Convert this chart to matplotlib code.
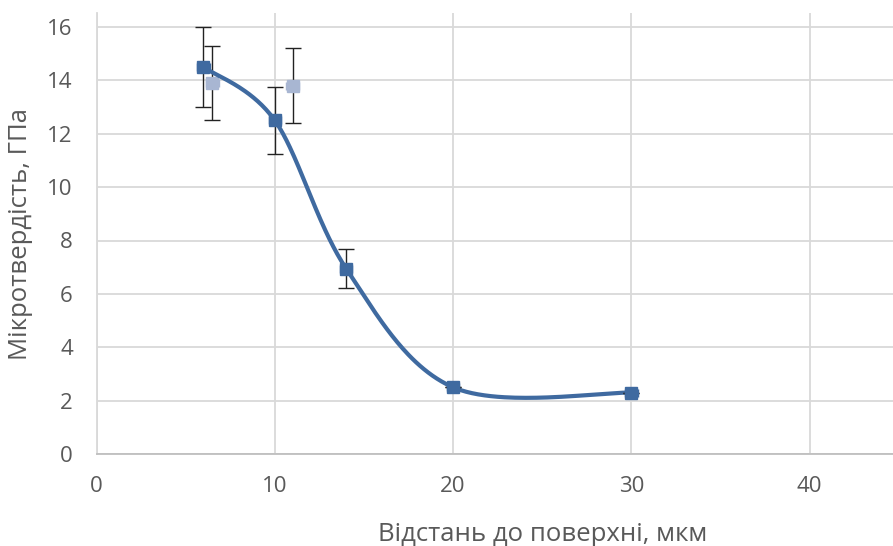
import numpy as np
import matplotlib
matplotlib.use("Agg")
import matplotlib.pyplot as plt

# Main series (smoothed line)
depth_main = [6, 10, 14, 20, 30]
hv_main = [14.5, 12.5, 6.95, 2.5, 2.3]
hv_main_err = [1.5, 1.25, 0.72, 0.0, 0.0]

# Secondary measurements
depth_extra = [6.5, 11]
hv_extra = [13.9, 13.8]
hv_extra_err = [1.4, 1.4]

x_ticks = [0, 10, 20, 30, 40]
y_ticks = [0, 2, 4, 6, 8, 10, 12, 14, 16]

dark = "#3f6aa0"
light = "#a8b6d2"
grid_c = "#d9d9d9"
text_c = "#595959"
font = "Open Sans"


def smooth_curve(xs, ys, n=60):
    """Cubic Bezier segments with Catmull-Rom control points."""
    p = np.column_stack([xs, ys]).astype(float)
    pts = []
    for i in range(len(p) - 1):
        p0 = p[i - 1] if i > 0 else p[i]
        p1, p2 = p[i], p[i + 1]
        p3 = p[i + 2] if i + 2 < len(p) else p[i + 1]
        c1 = p1 + (p2 - p0) / 6.0
        c2 = p2 - (p3 - p1) / 6.0
        t = np.linspace(0, 1, n)[:, None]
        seg = ((1 - t) ** 3) * p1 + 3 * ((1 - t) ** 2) * t * c1 \
            + 3 * (1 - t) * t ** 2 * c2 + t ** 3 * p2
        pts.append(seg if i == 0 else seg[1:])
    pts = np.vstack(pts)
    return pts[:, 0], pts[:, 1]


W, H = 893, 546
x0, x1 = 96.5, 988.0      # plot area runs past the right edge of the canvas
y_top, y_bot = 13.0, 454.0
fig = plt.figure(figsize=(W / 100, H / 100), dpi=100)
ax = fig.add_axes([x0 / W, (H - y_bot) / H, (x1 - x0) / W, (y_bot - y_top) / H])

ax.set_xlim(0, 50)
ax.set_ylim(0, 16 * (y_bot - y_top) / (y_bot - 27.0))
ax.set_xticks(x_ticks)
ax.set_yticks(y_ticks)
ax.grid(True, color=grid_c, linewidth=1.3)
ax.set_axisbelow(True)
for s in ["top", "right"]:
    ax.spines[s].set_visible(False)
ax.spines["left"].set_color(grid_c)
ax.spines["left"].set_linewidth(1.3)
ax.spines["bottom"].set_color("#bfbfbf")
ax.spines["bottom"].set_linewidth(1.3)
ax.tick_params(length=0, labelsize=16, colors=text_c)
ax.tick_params(axis="y", pad=17)
ax.tick_params(axis="x", pad=16)
for lab in ax.get_xticklabels() + ax.get_yticklabels():
    lab.set_fontfamily(font)

# light series
ax.errorbar(depth_extra, hv_extra, yerr=hv_extra_err, fmt="none",
            ecolor="#222222", elinewidth=1.0, capsize=6, zorder=3)
ax.errorbar(depth_extra, hv_extra, xerr=0.35, fmt="s", color=light,
            ms=9, mec=light, elinewidth=2, capsize=3, zorder=4)

# main series
sx, sy = smooth_curve(depth_main, hv_main)
ax.plot(sx, sy, color=dark, linewidth=3.0, zorder=5)
ax.errorbar(depth_main, hv_main, yerr=hv_main_err, fmt="none",
            ecolor="#222222", elinewidth=1.0, capsize=6, zorder=6)
ax.errorbar(depth_main, hv_main, xerr=0.35, fmt="s", color=dark,
            ms=9, mec=dark, elinewidth=2, capsize=3, zorder=7)

ax.set_xlabel("Відстань до поверхні, мкм", fontsize=18.5, color=text_c,
              fontfamily=font, labelpad=18)
ax.set_ylabel("Мікротвердість, ГПа", fontsize=18.5, color=text_c,
              fontfamily=font, labelpad=10)

fig.savefig("out.png", dpi=100)
